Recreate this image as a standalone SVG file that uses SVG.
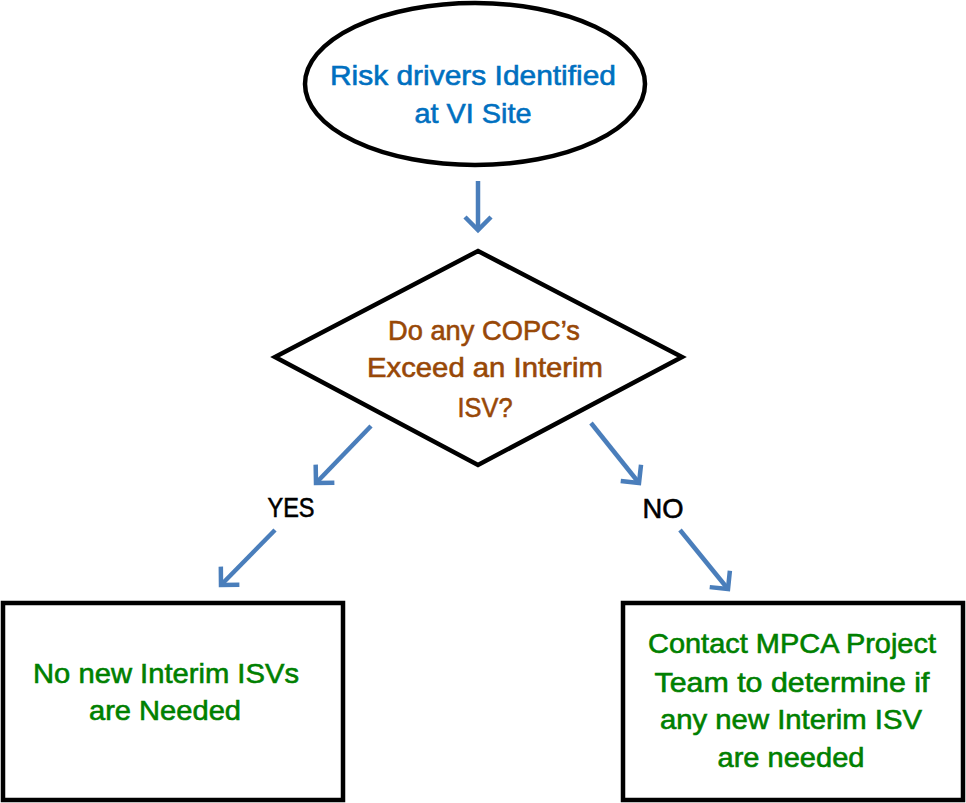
<svg xmlns="http://www.w3.org/2000/svg" width="966" height="803" viewBox="0 0 966 803">
<defs>
<style>
.shape{fill:#fff;stroke:#000;stroke-width:4.5}
.conn{fill:none;stroke:#4a7ebb;stroke-width:4.5;marker-end:url(#ah)}
text{font-family:"Liberation Sans",Arial,sans-serif;font-size:28px;text-anchor:middle;stroke-width:0.6}
.blue{fill:#0070c0;stroke:#0070c0}
.brown{fill:#984807;stroke:#984807}
.green{fill:#008000;stroke:#008000}
.blk{fill:#000;stroke:#000}
</style>
<marker id="ah" markerUnits="userSpaceOnUse" viewBox="-18 -16 22 32" refX="0" refY="0" markerWidth="22" markerHeight="32" orient="auto">
<path d="M-13,-13 L0,0 L-13,13" fill="none" stroke="#4a7ebb" stroke-width="4.5" stroke-linejoin="miter"/>
</marker>
</defs>
<rect width="966" height="803" fill="#fff"/>
<g id="connectors">
<line class="conn" x1="478" y1="181" x2="478" y2="230"/>
<line class="conn" x1="371" y1="426" x2="316" y2="483"/>
<line class="conn" x1="275" y1="530" x2="221" y2="585"/>
<line class="conn" x1="591" y1="423" x2="639" y2="483"/>
<line class="conn" x1="680" y1="530" x2="728" y2="589"/>
</g>
<g id="start">
<ellipse class="shape" cx="475" cy="84" rx="170" ry="81"/>
<text class="blue" x="473" y="85" textLength="286" lengthAdjust="spacingAndGlyphs">Risk drivers Identified</text>
<text class="blue" x="473" y="123" textLength="117" lengthAdjust="spacingAndGlyphs">at VI Site</text>
</g>
<g id="decision">
<polygon class="shape" points="478,251 682,357 478,465 275,357"/>
<text class="brown" x="484" y="340" textLength="192" lengthAdjust="spacingAndGlyphs">Do any COPC’s</text>
<text class="brown" x="485" y="377" textLength="236" lengthAdjust="spacingAndGlyphs">Exceed an Interim</text>
<text class="brown" x="485" y="417" textLength="55" lengthAdjust="spacingAndGlyphs">ISV?</text>
</g>
<g id="label-yes">
<text class="blk" x="291" y="517" textLength="47" lengthAdjust="spacingAndGlyphs">YES</text>
</g>
<g id="label-no">
<text class="blk" x="663" y="518" textLength="41" lengthAdjust="spacingAndGlyphs">NO</text>
</g>
<g id="no-new">
<rect class="shape" x="3" y="603" width="340" height="197"/>
<text class="green" x="166" y="683" textLength="266" lengthAdjust="spacingAndGlyphs">No new Interim ISVs</text>
<text class="green" x="165" y="720" textLength="152" lengthAdjust="spacingAndGlyphs">are Needed</text>
</g>
<g id="contact">
<rect class="shape" x="623" y="603" width="340" height="197"/>
<text class="green" x="792" y="653" textLength="288" lengthAdjust="spacingAndGlyphs">Contact MPCA Project</text>
<text class="green" x="792" y="692" textLength="275" lengthAdjust="spacingAndGlyphs">Team to determine if</text>
<text class="green" x="791" y="729" textLength="262" lengthAdjust="spacingAndGlyphs">any new Interim ISV</text>
<text class="green" x="791" y="767" textLength="147" lengthAdjust="spacingAndGlyphs">are needed</text>
</g>
</svg>
